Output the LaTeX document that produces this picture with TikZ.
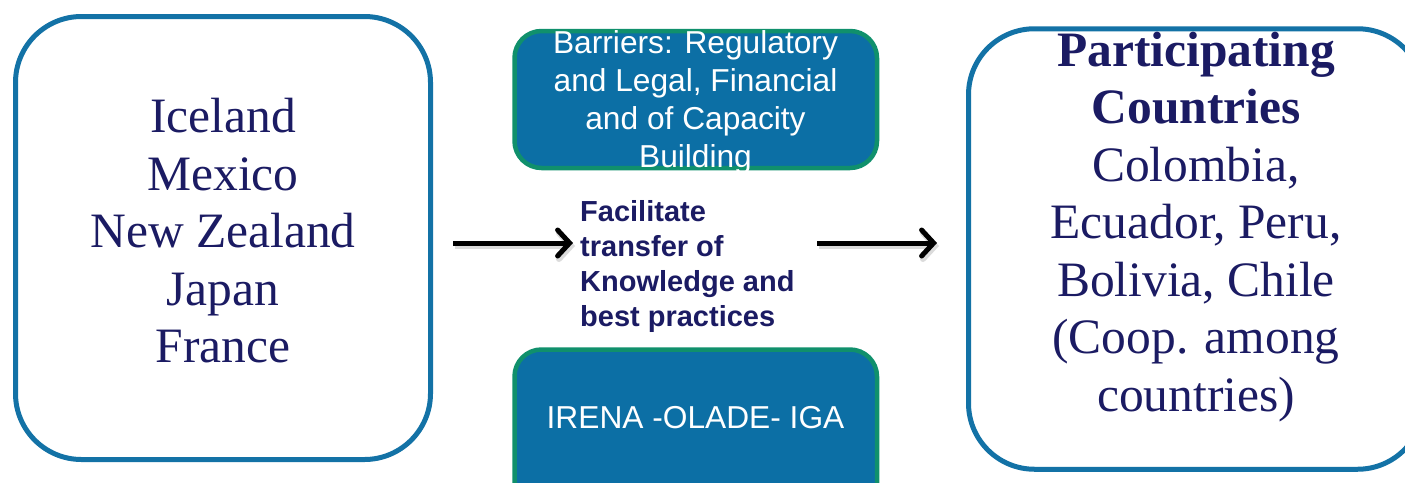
\documentclass[tikz,border=0pt]{standalone}
\usepackage{fontspec}
\setmainfont{Liberation Serif}
\newfontfamily\arialfont{Liberation Sans}
\usetikzlibrary{arrows.meta}
\definecolor{navy}{HTML}{1B1B63}
\definecolor{boxblue}{HTML}{1372A6}
\definecolor{midfill}{HTML}{0C6FA5}
\definecolor{midgreen}{HTML}{10906C}
\tikzset{
  bigbox/.style={draw=boxblue, line width=5pt, rounded corners=66pt, inner sep=0pt, outer sep=0pt, fill=white},
  midbox/.style={draw=midgreen, fill=midfill, line width=4.5pt, rounded corners=27pt, inner sep=0pt, outer sep=0pt, minimum width=362.5pt},
  seriftext/.style={text=navy, align=center, inner sep=0pt, font=\fontsize{49.5}{57.5}\selectfont},
  whitetext/.style={text=white, align=center, inner sep=0pt, font=\arialfont\fontsize{31.7}{38}\selectfont},
  boldtext/.style={text=navy, align=left, inner sep=0pt, font=\arialfont\bfseries\fontsize{29}{35}\selectfont},
  flow/.style={line width=5pt, -{Straight Barb[length=12pt,width=26pt,line width=5pt,line cap=round]}},
  flowshadow/.style={line width=6pt, draw=black!35, opacity=0.4, -{Straight Barb[length=12pt,width=26pt,line width=6pt,line cap=round]}}
}
\begin{document}
\begin{tikzpicture}[x=1pt,y=-1pt]
\useasboundingbox (0,0) rectangle (1405,482);
\clip (0,0) rectangle (1405,482);
% boxes
\node[bigbox, minimum width=415pt, minimum height=443pt] (L) at (223,238) {};
\node[bigbox, minimum width=455pt, minimum height=440.5pt] (R) at (1196,249) {};
\node[midbox, minimum height=137pt] (T) at (695.75,99.5) {};
\node[midbox, minimum height=171pt] (B) at (695.75,435) {};
% texts
\node[seriftext] (Ltext) at (223,231) {Iceland\\Mexico\\New Zealand\\Japan\\France};
\node[seriftext] (Rtext) at (1196,227) {\textbf{Participating}\\\textbf{Countries}\\Colombia,\\Ecuador, Peru,\\Bolivia, Chile\\(Coop. among\\countries)};
\node[whitetext] (Ttext) at (695.5,102) {Barriers: Regulatory\\and Legal, Financial\\and of Capacity\\Building};
\node[whitetext] (Btext) at (695.5,418) {IRENA -OLADE- IGA};
\node[boldtext, anchor=west] (M) at (580,266) {Facilitate\\transfer of\\Knowledge and\\best practices};
% arrows
\coordinate (a1s) at (453,243);
\coordinate (a1e) at (573,243);
\coordinate (a2s) at (817,243);
\coordinate (a2e) at (937,243);
\draw[flowshadow] ([shift={(2,3)}]a1s) -- ([shift={(2,3)}]a1e);
\draw[flowshadow] ([shift={(2,3)}]a2s) -- ([shift={(2,3)}]a2e);
\draw[flow] (a1s) -- (a1e);
\draw[flow] (a2s) -- (a2e);
\end{tikzpicture}
\end{document}
